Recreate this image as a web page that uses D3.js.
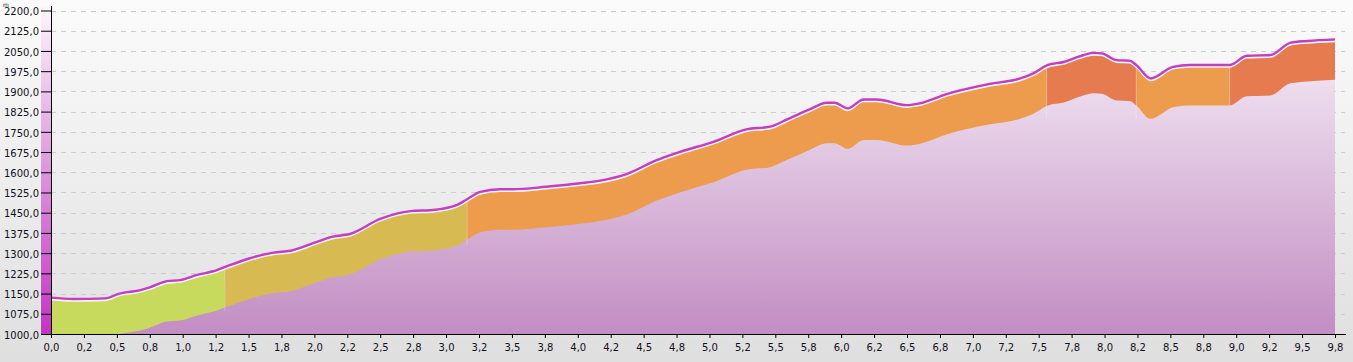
<!DOCTYPE html>
<html>
<head>
<meta charset="utf-8">
<script src="https://cdn.jsdelivr.net/npm/d3@7"></script>
<style>
  html, body { margin: 0; padding: 0; background: #e2e2e2; }
  svg { display: block; }
  text { font-family: "DejaVu Sans", Verdana, sans-serif; }
</style>
</head>
<body>
<div id="chart"></div>
<script>
// distance along the track (km) and elevation (m)
const distances = [0.0, 0.17, 0.41, 0.52, 0.68, 0.75, 0.88, 0.98, 1.11, 1.26, 1.33, 1.51, 1.69, 1.82,
  2.02, 2.14, 2.27, 2.5, 2.73, 2.9, 3.08, 3.16, 3.26, 3.41, 3.51, 3.76, 4.02, 4.17, 4.37, 4.6,
  4.78, 5.03, 5.28, 5.46, 5.59, 5.76, 5.89, 5.95, 6.05, 6.17, 6.27, 6.5, 6.6, 6.8, 7.11, 7.36,
  7.46, 7.57, 7.69, 7.81, 7.92, 7.98, 8.09, 8.19, 8.24, 8.35, 8.52, 8.65, 8.9, 8.95, 9.08,
  9.26, 9.41, 9.54, 9.75];
const elevations = [1135, 1130, 1132, 1150, 1163, 1173, 1196, 1200, 1219, 1237, 1250, 1281, 1302, 1309,
  1342, 1361, 1371, 1427, 1456, 1460, 1478, 1500, 1527, 1537, 1537, 1546, 1559, 1569, 1593, 1645,
  1676, 1713, 1759, 1769, 1796, 1833, 1858, 1858, 1837, 1870, 1870, 1849, 1856, 1890, 1926, 1948,
  1967, 1998, 2009, 2030, 2043, 2041, 2016, 2014, 1998, 1948, 1991, 1998, 1998, 1998, 2032,
  2035, 2080, 2087, 2093];

// slope segments (km) and their class
const segmentBreaks = [0, 1.32, 3.16, 7.56, 8.24, 8.95, 9.75];
const segmentGrade = ["easy", "moderate", "steep", "hard", "steep", "hard"];
const gradeColors = { easy: "#c7da5d", moderate: "#d7bb52", steep: "#ed9b4c", hard: "#e57b4f" };

const yTickValues = [1000, 1075, 1150, 1225, 1300, 1375, 1450, 1525, 1600, 1675, 1750, 1825,
  1900, 1975, 2050, 2125, 2200];
const xTickLabels = ["0,0", "0,2", "0,5", "0,8", "1,0", "1,2", "1,5", "1,8", "2,0", "2,2", "2,5",
  "2,8", "3,0", "3,2", "3,5", "3,8", "4,0", "4,2", "4,5", "4,8", "5,0", "5,2", "5,5", "5,8", "6,0",
  "6,2", "6,5", "6,8", "7,0", "7,2", "7,5", "7,8", "8,0", "8,2", "8,5", "8,8", "9,0", "9,2", "9,5", "9,8"];
const xTickValues = xTickLabels.map((d, i) => i * 0.25);

const bandDepth = 150;

const width = 1353, height = 362;
const data = distances.map((d, i) => ({ km: d, ele: elevations[i] }));

const svg = d3.select("#chart").append("svg")
  .attr("width", width)
  .attr("height", height);

const defs = svg.append("defs");

const bg = defs.append("linearGradient").attr("id", "bg")
  .attr("x1", 0).attr("y1", 0).attr("x2", 0).attr("y2", 1);
bg.append("stop").attr("offset", "0%").attr("stop-color", "#fbfbfb");
bg.append("stop").attr("offset", "100%").attr("stop-color", "#dfdfdf");

const fillGrad = defs.append("linearGradient").attr("id", "fillGrad")
  .attr("gradientUnits", "userSpaceOnUse")
  .attr("x1", 0).attr("y1", 10).attr("x2", 0).attr("y2", 334);
fillGrad.append("stop").attr("offset", "0%").attr("stop-color", "#faf4fa");
fillGrad.append("stop").attr("offset", "100%").attr("stop-color", "#c28dc3");

const stripGrad = defs.append("linearGradient").attr("id", "stripGrad")
  .attr("gradientUnits", "userSpaceOnUse")
  .attr("x1", 0).attr("y1", 6).attr("x2", 0).attr("y2", 334);
stripGrad.append("stop").attr("offset", "0%").attr("stop-color", "#fbf6fb");
stripGrad.append("stop").attr("offset", "100%").attr("stop-color", "#c035c0");

svg.append("rect")
  .attr("width", width)
  .attr("height", height)
  .attr("fill", "url(#bg)");

const x = d3.scaleLinear().domain([0, 9.75]).range([51, 1335]);
const y = d3.scaleLinear().domain([1000, 2200]).range([334, 10.5]);

defs.append("clipPath").attr("id", "plotClip")
  .append("rect")
  .attr("x", x(0)).attr("y", 0)
  .attr("width", x(9.75) - x(0)).attr("height", y(1000));

// gridlines
svg.append("g")
  .selectAll("line")
  .data(yTickValues.slice(1))
  .join("line")
  .attr("x1", x(0))
  .attr("x2", 1345)
  .attr("y1", d => Math.round(y(d)) + 0.5)
  .attr("y2", d => Math.round(y(d)) + 0.5)
  .attr("stroke", "#cdcdcd")
  .attr("stroke-dasharray", "5,5");

// colour strip left of the axis
svg.append("rect")
  .attr("x", 41)
  .attr("y", 6)
  .attr("width", 10)
  .attr("height", y(1000) - 6)
  .attr("fill", "url(#stripGrad)");

const plot = svg.append("g").attr("clip-path", "url(#plotClip)");

const curve = d3.curveMonotoneX;

plot.append("path")
  .datum(data)
  .attr("fill", "url(#fillGrad)")
  .attr("d", d3.area().curve(curve)
    .x(d => x(d.km))
    .y0(y(1000))
    .y1(d => y(d.ele)));

const band = d3.area().curve(curve)
  .x(d => x(d.km))
  .y0(d => y(d.ele - bandDepth))
  .y1(d => y(d.ele));

segmentGrade.forEach((g, i) => {
  const id = "seg" + i;
  defs.append("clipPath").attr("id", id)
    .append("rect")
    .attr("x", x(segmentBreaks[i]))
    .attr("y", 0)
    .attr("width", x(segmentBreaks[i + 1]) - x(segmentBreaks[i]))
    .attr("height", height);
  plot.append("g")
    .attr("clip-path", "url(#" + id + ")")
    .append("path")
    .datum(data)
    .attr("fill", gradeColors[g])
    .attr("d", band);
});

// thin light seams between segments
plot.append("g")
  .selectAll("line")
  .data(segmentBreaks.slice(1, -1))
  .join("line")
  .attr("x1", d => x(d)).attr("x2", d => x(d))
  .attr("y1", d => y(d3.max(data, p => Math.abs(p.km - d) < 0.2 ? p.ele : 0)))
  .attr("y2", d => y(d3.min(data, p => Math.abs(p.km - d) < 0.2 ? p.ele : 3000) - bandDepth))
  .attr("stroke", "#fff")
  .attr("stroke-opacity", 0.25);

const line = d3.line().curve(curve)
  .x(d => x(d.km))
  .y(d => y(d.ele));

svg.append("path")
  .datum(data)
  .attr("fill", "none")
  .attr("stroke", "#fff6ee")
  .attr("stroke-width", 2)
  .attr("transform", "translate(0,1.8)")
  .attr("d", line);

svg.append("path")
  .datum(data)
  .attr("fill", "none")
  .attr("stroke", "#c43cca")
  .attr("stroke-width", 2.4)
  .attr("d", line);

// axes
const fmt = d => d3.format(".1f")(d).replace(".", ",");

const yAxis = svg.append("g")
  .attr("transform", "translate(51,0)")
  .call(d3.axisLeft(y).tickValues(yTickValues).tickFormat(fmt).tickSize(10).tickSizeOuter(0));
yAxis.select(".domain").remove();
yAxis.selectAll("text")
  .attr("x", -12)
  .attr("dy", "0.42em")
  .attr("fill", "#101020")
  .style("font-size", "10px");

const xAxis = svg.append("g")
  .attr("transform", "translate(0," + y(1000) + ")")
  .call(d3.axisBottom(x).tickValues(xTickValues).tickFormat((d, i) => xTickLabels[i]).tickSize(4).tickSizeOuter(0));
xAxis.select(".domain").remove();
xAxis.selectAll("text")
  .attr("y", 10)
  .attr("dy", "0.71em")
  .attr("fill", "#101020")
  .style("font-size", "10px");

svg.append("line")
  .attr("x1", 51.5).attr("x2", 51.5)
  .attr("y1", 6).attr("y2", y(1000))
  .attr("stroke", "#000");

svg.append("line")
  .attr("x1", 51).attr("x2", 1346)
  .attr("y1", y(1000) + 0.5).attr("y2", y(1000) + 0.5)
  .attr("stroke", "#000");

svg.append("text")
  .attr("x", 3)
  .attr("y", 7)
  .attr("fill", "#333")
  .style("font-size", "6px")
  .text("m");
</script>
</body>
</html>
